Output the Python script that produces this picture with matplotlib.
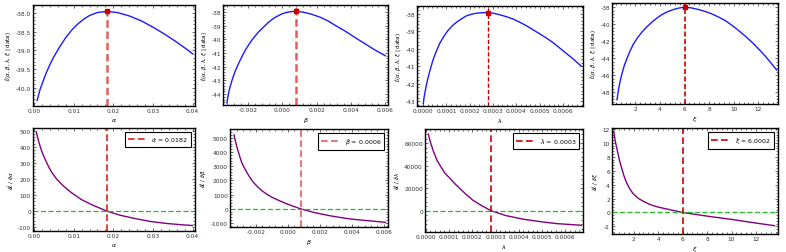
import matplotlib.pyplot as plt
from matplotlib.ticker import MultipleLocator, AutoMinorLocator, FormatStrFormatter

# profile log-likelihood
alpha = [0.0008, 0.0015, 0.0023, 0.003, 0.004, 0.005, 0.0065, 0.008, 0.0095, 0.011, 0.0125,
         0.014, 0.016, 0.0183, 0.021, 0.024, 0.027, 0.030, 0.033, 0.036, 0.038, 0.040]
ll_alpha = [-40.33, -40.05, -39.82, -39.62, -39.38, -39.17, -38.90, -38.66, -38.46, -38.30, -38.17,
            -38.07, -37.99, -37.96, -37.99, -38.08, -38.21, -38.38, -38.57, -38.78, -38.93, -39.09]

beta = [-0.00323, -0.00317, -0.00311, -0.00304, -0.00297, -0.00288, -0.00274, -0.00258, -0.00243,
        -0.00229, -0.00215, -0.0020, -0.00181, -0.00161, -0.00142, -0.00122, -0.00103, -0.00084,
        -0.00065, -0.00045, -0.00025, -0.00006, 0.00013, 0.00033, 0.00055, 0.00080, 0.0012, 0.0017,
        0.0022, 0.00266, 0.0031, 0.00363, 0.0041, 0.0046, 0.005, 0.00538, 0.0060]
ll_beta = [-44.65, -44.18, -43.78, -43.45, -43.15, -42.78, -42.3, -41.85, -41.45,
           -41.1, -40.78, -40.48, -40.12, -39.8, -39.51, -39.26, -39.03, -38.8,
           -38.6, -38.43, -38.29, -38.17, -38.08, -38.02, -37.98, -37.97, -38.02, -38.17,
           -38.39, -38.66, -39.0, -39.38, -39.76, -40.16, -40.47, -40.77, -41.2]

lam = [0.000001, 0.0000035, 0.0000071, 0.000014, 0.0000214, 0.000032, 0.0000429, 0.000057,
       0.0000714, 0.000089, 0.000107, 0.000125, 0.000143, 0.000165, 0.000186, 0.000208, 0.000229,
       0.000255, 0.000280, 0.000305, 0.000329, 0.000358, 0.000386, 0.000414, 0.000443, 0.00047,
       0.0005, 0.00053, 0.000557, 0.000585, 0.000614, 0.000647, 0.000679]
ll_lam = [-43.13, -42.85, -42.57, -42.08, -41.65, -41.12, -40.63, -40.14,
          -39.70, -39.3, -38.96, -38.7, -38.5, -38.3, -38.13, -38.04, -37.98,
          -37.95, -37.94, -37.99, -38.07, -38.18, -38.31, -38.49, -38.69, -38.91,
          -39.15, -39.4, -39.65, -39.95, -40.26, -40.62, -41.0]

xi = [0.51, 0.58, 0.65, 0.78, 0.92, 1.1, 1.32, 1.58, 1.86, 2.2, 2.54, 2.94, 3.35, 3.75, 4.16,
      4.62, 5.1, 5.55, 6.0, 6.57, 7.14, 7.68, 8.22, 8.76, 9.3, 9.84, 10.38, 10.92, 11.46, 12.0,
      12.54, 13.02, 13.49]
ll_xi = [-48.9, -48.15, -47.53, -46.6, -45.78, -44.86, -44.03, -43.12, -42.28, -41.55, -40.92,
         -40.3, -39.75, -39.28, -38.86, -38.53, -38.27, -38.09, -38.0, -38.08, -38.27,
         -38.5, -38.78, -39.15, -39.56, -40.11, -40.72, -41.38, -42.09, -42.88, -43.72,
         -44.55, -45.39]

# score functions
alpha_s = [0.00059, 0.0008, 0.00101, 0.00143, 0.00185, 0.00227, 0.00312, 0.00375, 0.00438, 0.00564,
           0.0065, 0.00733, 0.0084, 0.00943, 0.01196, 0.0149, 0.0183, 0.0216, 0.025, 0.0292,
           0.0334, 0.0367, 0.040]
score_alpha = [492, 470, 449, 412, 380, 352, 305, 273, 244, 201, 178, 158, 135, 114, 71, 35, 0,
               -26, -45, -65, -78, -85, -91]

beta_s = [-0.00338, -0.00333, -0.00327, -0.00319, -0.0031, -0.003, -0.0029, -0.00274, -0.00258,
          -0.00238, -0.00217, -0.00191, -0.00165, -0.00134, -0.00102, -0.0006, -0.00019, 0.00029,
          0.00077, 0.00169, 0.00273, 0.00377, 0.0044, 0.00502, 0.0061]
score_beta = [5222, 4950, 4684, 4320, 3981, 3620, 3279, 2900, 2576, 2200, 1874, 1560, 1288, 1040,
              820, 600, 398, 195, 0, -281, -515, -703, -780, -843, -960]

lam_s = [0.0000114, 0.000015, 0.0000186, 0.000026, 0.0000329, 0.0000471, 0.0000614, 0.0000829,
         0.000104, 0.000125, 0.000147, 0.000175, 0.000204, 0.000242, 0.00028, 0.000347, 0.000419,
         0.00049, 0.000561, 0.000669]
score_lam = [68200, 65000, 62100, 57300, 53000, 45500, 40300, 33300, 28800, 24000, 19700, 14200,
             9100, 4300, 0, -4500, -7600, -9700, -11500, -13000]

xi_s = [0.37, 0.5, 0.73, 0.85, 1.0, 1.2, 1.4, 1.65, 1.95, 2.4, 2.9, 3.4, 4.0, 5.0, 6.0,
        8.0, 10.0, 12.0, 13.5]
score_xi = [11.66, 10.2, 8.4, 7.4, 6.5, 5.3, 4.35, 3.5, 2.7, 2.0, 1.5, 1.1, 0.77, 0.38, 0.0,
            -0.53, -1.0, -1.53, -1.9]

mle_pos = [0.0183, 0.0008, 0.00028, 6.0]
mle_peak = [-37.96, -37.97, -37.94, -38.0]
mle_labels = [r'$\hat{\alpha}$ = 0.0182', r'$\hat{\beta}$ = 0.0006',
              r'$\hat{\lambda}$ = 0.0003', r'$\hat{\xi}$ = 6.0002']
names = [r'$\alpha$', r'$\beta$', r'$\lambda$', r'$\xi$']
dnames = [r'$\partial\ell$ / $\partial\alpha$', r'$\partial\ell$ / $\partial\beta$',
          r'$\partial\ell$ / $\partial\lambda$', r'$\partial\ell$ / $\partial\xi$']

W, H = 786, 253
fig = plt.figure(figsize=(W / 100, H / 100), dpi=100)
plt.rcParams['font.size'] = 4.2


def box(l, t, r, b):
    return fig.add_axes([l / W, 1 - b / H, (r - l) / W, (b - t) / H])


def style(ax, xmaj, ymaj, xfmt, yfmt):
    ax.xaxis.set_major_locator(MultipleLocator(xmaj))
    ax.yaxis.set_major_locator(MultipleLocator(ymaj))
    ax.xaxis.set_minor_locator(AutoMinorLocator(5))
    ax.yaxis.set_minor_locator(AutoMinorLocator(5))
    ax.xaxis.set_major_formatter(FormatStrFormatter(xfmt))
    ax.yaxis.set_major_formatter(FormatStrFormatter(yfmt))
    ax.tick_params(which='both', direction='in', top=True, right=True, width=0.5, pad=1.5,
                   labelsize=4.2, colors='#333333')
    ax.tick_params(which='major', length=2.5)
    ax.tick_params(which='minor', length=1.3)
    for s in ax.spines.values():
        s.set_linewidth(1.0)
        s.set_color('black')


top_boxes = [(33, 6, 195, 107), (223, 6, 388, 106), (417, 7, 583, 107), (612, 4, 778, 105)]
bot_boxes = [(33, 129, 195, 232), (230, 130, 388, 228), (425, 130, 583, 233), (612, 129, 778, 235)]
top_x = [alpha, beta, lam, xi]
top_y = [ll_alpha, ll_beta, ll_lam, ll_xi]
bot_x = [alpha_s, beta_s, lam_s, xi_s]
bot_y = [score_alpha, score_beta, score_lam, score_xi]
top_xlim = [(-0.00025, 0.0406), (-0.00346, 0.00616), (-0.000026, 0.000686), (0.1, 13.6)]
top_ylim = [(-40.48, -37.79), (-44.8, -37.5), (-43.26, -37.57), (-49.4, -37.5)]
bot_xlim = [(-0.00025, 0.0406), (-0.00363, 0.00627), (-0.000003, 0.000676), (0.23, 13.8)]
bot_ylim = [(-125, 517), (-1290, 5630), (-19000, 72700), (-3.1, 12.14)]
xmaj = [0.01, 0.002, 0.0001, 2]
xfmt = ['%.2f', '%.3f', '%.4f', '%d']
top_ymaj = [0.5, 1, 1, 2]
top_yfmt = ['%.1f', '%d', '%d', '%d']
bot_ymaj = [100, 1000, 20000, 2]
vcol_top = ['#e06060', '#e06060', '#c00000', '#d00000']
vlw_top = [1.8, 1.8, 1.0, 1.2]
vcol_bot = ['#e02020', '#e06060', '#d00000', '#d00000']

for i in range(4):
    ax = box(*top_boxes[i])
    ax.plot(top_x[i], top_y[i], color='#1a1aff', lw=1.0)
    ax.axvline(mle_pos[i], color=vcol_top[i], lw=vlw_top[i], ls=(0, (3, 1.5)))
    ax.plot([mle_pos[i]], [mle_peak[i]], 's', color='#cc0000', ms=2.2)
    ax.set_xlim(top_xlim[i])
    ax.set_ylim(top_ylim[i])
    style(ax, xmaj[i], top_ymaj[i], xfmt[i], top_yfmt[i])
    ax.set_xlabel(names[i], fontsize=4.5, labelpad=2)
    ax.set_ylabel(r'$\ell$($\alpha$, $\beta$, $\lambda$, $\xi$ | data)', fontsize=4, labelpad=2)

    ax = box(*bot_boxes[i])
    ax.plot(bot_x[i], bot_y[i], color='#800080', lw=1.0)
    ax.axhline(0, color='#22bb22', lw=0.9, ls=(0, (4, 2)))
    ax.axvline(mle_pos[i], color=vcol_bot[i], lw=1.2, ls=(0, (4, 2)), label=mle_labels[i])
    ax.set_xlim(bot_xlim[i])
    ax.set_ylim(bot_ylim[i])
    style(ax, xmaj[i], bot_ymaj[i], xfmt[i], '%d')
    ax.set_xlabel(names[i], fontsize=4.5, labelpad=2)
    ax.set_ylabel(dnames[i], fontsize=4, labelpad=2)
    leg = ax.legend(loc='upper right', fontsize=4.5, fancybox=False, framealpha=1,
                    edgecolor='black', handlelength=3, borderpad=0.5, borderaxespad=0.6)
    leg.get_frame().set_linewidth(0.8)

fig.savefig('out.png', dpi=100)
